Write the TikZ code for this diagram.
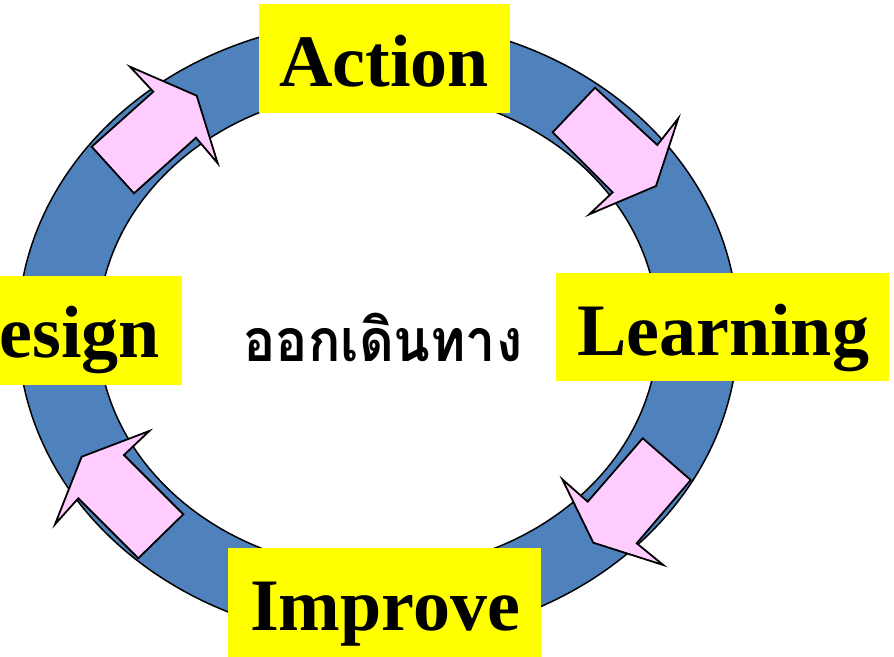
\documentclass[tikz,border=0pt]{standalone}
\usepackage{fontspec}
\setmainfont{Liberation Serif}
\newfontfamily\thaifont[Script=Thai]{Loma}
\definecolor{ringblue}{HTML}{4F81BD}
\definecolor{arrowpink}{HTML}{FFCCFF}
\definecolor{labelyellow}{HTML}{FFFF00}
\tikzset{
  ring/.style={fill=ringblue, draw=black, line width=1.5pt, even odd rule},
  blockarrow/.style={fill=arrowpink, draw=black, line width=1.8pt, line join=miter},
  labelbox/.style={fill=labelyellow, draw=none},
  labeltext/.style={font=\fontsize{74}{80}\selectfont\bfseries, inner sep=0pt, anchor=base west},
  thaitext/.style={font=\thaifont\bfseries\fontsize{59}{66}\selectfont, inner sep=0pt, anchor=base, xscale=0.91}
}
\begin{document}
\begin{tikzpicture}[x=1pt,y=-1pt]
\useasboundingbox (0,0) rectangle (894,656);
\clip (0,0) rectangle (894,656);
\fill[white] (0,0) rectangle (894,656);
% ring
\path[ring] (378,330) ellipse [x radius=360, y radius=310]
            (378,330) ellipse [x radius=280, y radius=240];
% arrows
\draw[blockarrow] (91.7,146.7) -- (153.3,91.7) -- (130,66.7) -- (196.7,95.7)
   -- (217.7,163.3) -- (196,137.7) -- (134,193.3) -- cycle;
\draw[blockarrow] (595,87.7) -- (657.3,145) -- (678.3,118.3) -- (656,186)
   -- (589.3,214.3) -- (612.7,192.3) -- (552.7,132.3) -- cycle;
\draw[blockarrow] (642.7,438.3) -- (690.7,480) -- (636.7,543.3) -- (663.3,565)
   -- (593.3,542.7) -- (562.3,479.3) -- (587.7,501.7) -- cycle;
\draw[blockarrow] (183.3,514.3) -- (124,455) -- (149.3,431) -- (81.7,456.7)
   -- (55,524.3) -- (78.3,498.3) -- (138.3,558.3) -- cycle;
% label boxes
\fill[labelbox] (259,4) rectangle (510,113);
\fill[labelbox] (556,273) rectangle (889,381);
\fill[labelbox] (-10,276) rectangle (182,385);
\fill[labelbox] (228,548) rectangle (541,666);
% labels
\node[labeltext] (action) at (279,86) {Action};
\node[labeltext] (learning) at (577,355) {Learning};
\node[labeltext, anchor=base east] (design) at (160,357) {esign};
\node[labeltext] (improve) at (250,630) {Improve};
\node[thaitext] (start) at (383,361) {ออกเดินทาง};
\end{tikzpicture}
\end{document}
